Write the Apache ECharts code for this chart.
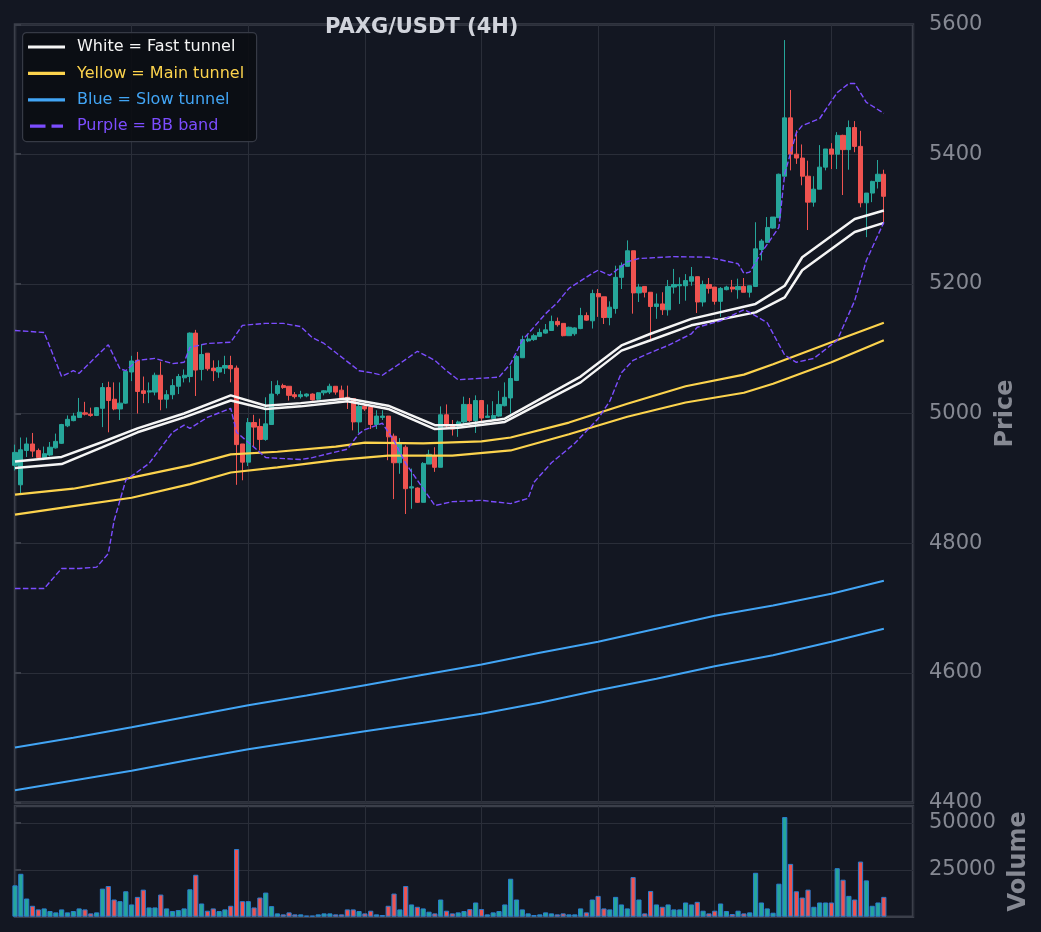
<!DOCTYPE html>
<html>
<head>
    <meta charset="utf-8">
    <title>PAXG/USDT (4H)</title>
    <script src="https://cdn.jsdelivr.net/npm/echarts@6/dist/echarts.min.js"></script>
    <style>
        html,body{
            height:100%;
            width:100%;
            margin:0;
            padding:0;
            background:#131722;
        }
        #main{
            width:1041px;
            height:932px;
        }
    </style>
</head>
<body>
<div id="main"></div>
<script>
    // 4H candles: [open, close, low, high]
    var candles = [
        [4920,4940,4912,4952],[4890,4944,4876,4963],[4943,4953,4933,4963],[4953,4942,4933,4970],[4943,4932,4929,4946],
        [4932,4938,4928,4949],[4936,4948,4934,4956],[4947,4957,4946,4969],[4954,4983,4953,4984],[4981,4991,4979,4997],
        [4989,4996,4988,5001],[4994,5002,4993,5024],[5001,4999,4997,5018],[4999,4997,4995,5009],[4997,5009,4996,5010],
        [5008,5040,4979,5047],[5040,5020,4971,5049],[5022,5007,5005,5048],[5007,5016,4990,5048],[5016,5065,5015,5067],
        [5064,5081,5050,5089],[5082,5034,5000,5095],[5035,5031,5016,5057],[5033,5035,5016,5048],[5033,5059,5028,5063],
        [5059,5022,5005,5080],[5022,5029,5008,5036],[5029,5043,5022,5053],[5042,5057,5030,5061],[5055,5059,5048,5068],
        [5057,5124,5048,5125],[5124,5067,5027,5129],[5068,5091,5051,5107],[5093,5069,5066,5093],[5070,5066,5050,5082],
        [5064,5071,5055,5082],[5070,5074,5061,5089],[5074,5069,5048,5089],[5070,4952,4890,5074],[4953,4925,4897,4953],
        [4925,4986,4919,4993],[4986,4979,4948,4998],[4980,4960,4943,4992],[4960,4984,4958,5025],[4983,5030,4983,5050],
        [5031,5043,5028,5051],[5043,5040,5038,5046],[5042,5028,5020,5042],[5029,5026,5023,5033],[5026,5029,5023,5035],
        [5027,5030,5025,5031],[5030,5021,5020,5031],[5022,5032,5020,5033],[5032,5035,5028,5036],[5033,5042,5030,5046],
        [5042,5033,5029,5042],[5036,5024,5021,5043],[5025,5023,5007,5043],[5023,4987,4974,5023],[4987,5011,4970,5015],
        [5011,5007,5004,5015],[5010,4983,4976,5010],[4983,4996,4976,5005],[4994,4996,4990,5005],[4996,4964,4928,4996],
        [4965,4924,4868,4969],[4924,4953,4907,4962],[4948,4884,4845,4951],[4885,4887,4853,4915],[4885,4863,4862,4886],
        [4863,4923,4863,4925],[4922,4937,4922,4944],[4935,4917,4910,4948],[4917,4998,4917,5011],[4998,4981,4976,5014],
        [4981,4976,4966,4990],[4981,4987,4964,4989],[4987,5014,4984,5026],[5014,4989,4987,5024],[4989,5020,4970,5028],
        [5020,4993,4985,5020],[4994,4996,4994,5014],[4992,4997,4990,5019],[4996,5014,4995,5035],[5012,5025,5011,5048],
        [5024,5054,5000,5074],[5051,5088,5050,5090],[5086,5114,5086,5120],[5112,5115,5110,5123],[5114,5120,5112,5123],
        [5119,5125,5118,5131],[5124,5129,5123,5138],[5128,5142,5128,5151],[5142,5137,5134,5148],[5139,5120,5119,5139],
        [5120,5133,5120,5134],[5123,5132,5120,5133],[5131,5151,5130,5163],[5151,5144,5143,5156],[5143,5185,5131,5191],
        [5185,5180,5149,5192],[5180,5148,5138,5180],[5148,5164,5136,5173],[5162,5210,5154,5228],[5210,5228,5192,5233],
        [5227,5251,5227,5267],[5251,5186,5154,5251],[5186,5195,5172,5200],[5196,5187,5179,5196],[5187,5165,5112,5187],
        [5165,5169,5146,5185],[5169,5160,5152,5187],[5160,5196,5151,5206],[5195,5199,5185,5223],[5197,5199,5169,5210],
        [5197,5205,5174,5215],[5204,5211,5197,5226],[5211,5172,5155,5211],[5172,5199,5165,5205],[5199,5193,5185,5209],
        [5195,5173,5168,5195],[5173,5193,5149,5195],[5191,5195,5190,5197],[5195,5192,5187,5206],[5191,5196,5177,5208],
        [5196,5187,5187,5209],[5187,5197,5179,5197],[5196,5254,5195,5295],[5253,5266,5236,5269],[5264,5287,5264,5303],
        [5286,5303,5285,5303],[5302,5369,5302,5370],[5366,5456,5366,5576],[5456,5400,5375,5499],[5400,5394,5385,5437],
        [5394,5366,5352,5415],[5366,5326,5283,5390],[5326,5346,5319,5366],[5346,5380,5346,5414],[5380,5408,5375,5408],
        [5408,5400,5377,5417],[5400,5429,5377,5434],[5429,5407,5337,5430],[5407,5441,5376,5452],[5441,5412,5403,5451],
        [5412,5325,5318,5436],[5325,5340,5272,5340],[5340,5358,5326,5359],[5358,5369,5347,5391],[5369,5335,5295,5376]
    ];
    var volumes = [
        16720,22870,9690,5820,3890,4420,3010,2310,3890,2310,3010,4420,3890,1780,2310,14960,16370,9160,8280,13560,
        6530,10570,14430,4940,4940,11800,4420,3010,3540,4420,14610,22350,7050,3190,4420,3010,3890,5820,36060,8280,
        8280,4940,10220,12850,5640,1780,1250,2310,1250,1250,550,550,1250,1780,1780,1250,1250,3890,3890,3010,
        1780,3190,1250,900,5820,12330,3890,16370,6530,5290,4420,2660,1780,9160,3190,1780,2310,3010,4060,7580,
        4060,1250,2310,3010,6530,20240,9160,3890,1780,900,1250,2310,1780,1250,1780,1250,1250,4420,2310,9160,
        11100,4420,3890,10570,6530,4420,21120,9160,1780,13730,6530,5290,6530,3890,3890,7580,6530,7930,3190,1780,
        3190,7050,3010,1430,3190,1780,2310,23400,7580,4420,2130,17600,53110,28150,13560,10220,14430,5290,7580,7580,
        7580,25860,19710,11100,9160,29380,19360,5820,7580,10570
    ];
    // tunnel / band lines: [candle index, price]
    var fastUpper = [[0,4926],[8,4933],[15,4956],[21,4977],[29,5000],[37,5028],[43,5012],[49,5016],[57,5023],[64,5012],
        [72,4982],[76,4982],[84,4992],[97,5057],[104,5105],[109,5123],[116,5146],[127,5169],[132,5197],[135,5241],[144,5300],[149,5313]];
    var fastLower = [[0,4916],[8,4922],[15,4948],[21,4971],[29,4994],[37,5020],[43,5007],[49,5011],[57,5019],[64,5007],
        [72,4976],[76,4978],[84,4987],[97,5048],[104,5097],[109,5113],[116,5136],[127,5156],[132,5179],[135,5221],[144,5280],[149,5294]];
    var mainUpper = [[0,4875],[10,4884],[20,4901],[30,4920],[37,4937],[45,4941],[55,4949],[60,4955],[70,4954],[80,4957],
        [85,4963],[95,4986],[105,5015],[115,5042],[125,5060],[130,5076],[140,5110],[149,5140]];
    var mainLower = [[0,4844],[10,4857],[20,4870],[30,4891],[37,4909],[45,4917],[55,4928],[64,4935],[75,4935],[85,4943],
        [95,4968],[105,4995],[115,5017],[125,5032],[130,5046],[140,5079],[149,5113]];
    var slowUpper = [[0,4485],[10,4500],[20,4516],[30,4533],[40,4550],[50,4565],[60,4581],[70,4597],[80,4613],[90,4631],
        [100,4648],[110,4668],[120,4688],[130,4704],[140,4722],[149,4742]];
    var slowLower = [[0,4419],[10,4434],[20,4449],[30,4466],[40,4482],[50,4496],[60,4510],[70,4523],[80,4537],[90,4554],
        [100,4573],[110,4591],[120,4610],[130,4627],[140,4648],[149,4668]];
    var bbUpper = [[0,5128],[5,5125],[8,5057],[10,5066],[11,5062],[16,5106],[18,5069],[19,5066],[21,5082],[24,5085],
        [27,5077],[29,5079],[30,5102],[33,5108],[37,5110],[39,5136],[43,5139],[46,5139],[49,5134],[51,5117],[53,5108],
        [57,5080],[59,5066],[61,5063],[63,5059],[66,5077],[69,5096],[72,5082],[74,5066],[76,5052],[83,5056],[85,5077],
        [87,5113],[88,5123],[91,5154],[93,5171],[95,5193],[99,5216],[100,5221],[102,5213],[105,5234],[107,5239],
        [113,5242],[119,5241],[124,5231],[125,5216],[126,5218],[128,5248],[131,5287],[132,5370],[134,5433],[135,5444],
        [138,5455],[141,5495],[143,5509],[144,5509],[146,5480],[149,5463]];
    var bbLower = [[0,4730],[5,4730],[8,4761],[11,4761],[14,4763],[16,4784],[17,4835],[19,4897],[23,4923],[27,4971],
        [29,4982],[30,4977],[33,4994],[37,5008],[38,4971],[41,4948],[43,4932],[49,4929],[51,4932],[57,4945],[59,4969],
        [60,4975],[63,4985],[65,4958],[67,4923],[70,4884],[72,4858],[75,4864],[80,4866],[85,4861],[88,4869],[89,4894],
        [92,4924],[96,4954],[100,4992],[102,5019],[104,5063],[106,5082],[109,5094],[112,5105],[116,5123],[117,5133],
        [121,5143],[125,5160],[126,5156],[129,5140],[132,5090],[134,5079],[137,5085],[141,5113],[144,5174],[146,5236],[149,5295]];
    // axis ticks
    var priceTicks = [4400, 4600, 4800, 5000, 5200, 5400, 5600];
    var volTicks = [25000, 50000];
    var legendNames = ['White = Fast tunnel', 'Yellow = Main tunnel', 'Blue = Slow tunnel', 'Purple = BB band'];

    var UP = '#26a69a', DOWN = '#ef5350';
    var WHITE = '#f5f5f5', YELLOW = '#fcd34d', BLUE = '#42a5f5', PURPLE = '#7c4dff';
    var GRIDC = '#2a2e39', SPINE = '#3b3f4a', LABEL = '#868993';
    var FONT = 'DejaVu Sans';

    var candleData = candles.map(function (c, i) { return [i, c[0], c[1], c[2], c[3]]; });
    var volData = volumes.map(function (v, i) {
        return {value: [i, v], itemStyle: {color: candles[i][1] >= candles[i][0] ? UP : DOWN}};
    });

    function lineSeries(name, data, color, width, dash) {
        return {
            name: name,
            type: 'line',
            xAxisIndex: 0,
            yAxisIndex: 0,
            data: data,
            symbol: 'none',
            z: 4,
            silent: true,
            itemStyle: {color: color},
            lineStyle: {color: color, width: width, type: dash || 'solid'}
        };
    }

    // legend box drawn as graphics (line sample + coloured text per row)
    var legendColors = [WHITE, YELLOW, BLUE, PURPLE];
    var legendEls = [{
        type: 'rect', left: 22, top: 32, z: 10,
        shape: {width: 234, height: 109, r: 4},
        style: {fill: 'rgba(11,13,19,0.9)', stroke: '#363a45', lineWidth: 1.2}
    }];
    legendNames.forEach(function (name, k) {
        var cy = 47 + k * 26.4;
        var dashed = k === 3;
        legendEls.push({
            type: 'line', z: 11,
            shape: {x1: dashed ? 30 : 28, y1: cy, x2: dashed ? 63 : 65, y2: cy},
            style: {stroke: legendColors[k], lineWidth: 3.2, lineDash: dashed ? [15.5, 6] : null}
        });
        legendEls.push({
            type: 'text', z: 11, x: 77, y: cy,
            style: {text: name, fill: legendColors[k], font: '16px "DejaVu Sans"', verticalAlign: 'middle', align: 'left'}
        });
    });

    function plainNum(v) { return String(v); }

    var myChart = echarts.init(document.getElementById('main'));
    var option = {
        backgroundColor: '#131722',
        animation: false,
        title: {
            text: 'PAXG/USDT (4H)',
            left: 320,
            top: 12,
            textStyle: {color: '#d1d4dc', fontSize: 21, fontWeight: 'bold', fontFamily: FONT}
        },
        graphic: {elements: legendEls},
        grid: [
            {left: 15, top: 24.5, width: 898, height: 778, show: true, borderColor: SPINE, borderWidth: 2.5},
            {left: 15, top: 806, width: 898, height: 110.7, show: true, borderColor: SPINE, borderWidth: 2.5}
        ],
        xAxis: [
            {
                type: 'value', gridIndex: 0, min: 0, max: 154, interval: 20,
                axisLine: {show: false}, axisTick: {show: false}, axisLabel: {show: false},
                splitLine: {show: true, lineStyle: {color: GRIDC, width: 1}}
            },
            {
                type: 'value', gridIndex: 1, min: 0, max: 154, interval: 20,
                axisLine: {show: false}, axisTick: {show: false}, axisLabel: {show: false},
                splitLine: {show: true, lineStyle: {color: GRIDC, width: 1}}
            }
        ],
        yAxis: [
            {
                type: 'value', gridIndex: 0, position: 'right', min: 4400, max: 5600, interval: 200,
                name: 'Price', nameLocation: 'middle', nameRotate: 90, nameGap: 70,
                nameTextStyle: {color: LABEL, fontSize: 24, fontWeight: 'bold', fontFamily: FONT},
                axisLine: {show: false},
                axisTick: {show: true, length: 6, lineStyle: {color: SPINE, width: 2}, customValues: priceTicks},
                axisLabel: {color: LABEL, fontSize: 21, fontFamily: FONT, margin: 16, customValues: priceTicks, formatter: plainNum},
                splitLine: {show: true, lineStyle: {color: GRIDC, width: 1}}
            },
            {
                type: 'value', gridIndex: 1, position: 'right', min: 0, max: 59000, interval: 25000,
                name: 'Volume', nameLocation: 'middle', nameRotate: 90, nameGap: 83,
                nameTextStyle: {color: LABEL, fontSize: 24, fontWeight: 'bold', fontFamily: FONT},
                axisLine: {show: false},
                axisTick: {show: true, length: 6, lineStyle: {color: SPINE, width: 2}, customValues: volTicks},
                axisLabel: {color: LABEL, fontSize: 21, fontFamily: FONT, margin: 16, customValues: volTicks, formatter: plainNum},
                splitLine: {show: true, lineStyle: {color: GRIDC, width: 1}}
            }
        ],
        series: [
            {
                name: 'PAXG',
                type: 'candlestick',
                xAxisIndex: 0,
                yAxisIndex: 0,
                data: candleData,
                barWidth: 4.7,
                z: 3,
                silent: true,
                itemStyle: {color: UP, color0: DOWN, borderColor: UP, borderColor0: DOWN, borderWidth: 1}
            },
            {
                name: 'Volume',
                type: 'bar',
                xAxisIndex: 1,
                yAxisIndex: 1,
                data: volData,
                barWidth: 5.2,
                silent: true,
                itemStyle: {borderColor: '#2a7dd1', borderWidth: 1}
            },
            lineSeries(legendNames[2], slowUpper, BLUE, 2),
            lineSeries(legendNames[2], slowLower, BLUE, 2),
            lineSeries(legendNames[1], mainUpper, YELLOW, 2.2),
            lineSeries(legendNames[1], mainLower, YELLOW, 2.2),
            lineSeries(legendNames[0], fastUpper, WHITE, 2.5),
            lineSeries(legendNames[0], fastLower, WHITE, 2.5),
            lineSeries(legendNames[3], bbUpper, PURPLE, 1.4, [5.5, 2.4]),
            lineSeries(legendNames[3], bbLower, PURPLE, 1.4, [5.5, 2.4])
        ]
    };
    myChart.setOption(option);
</script>
</body>
</html>
